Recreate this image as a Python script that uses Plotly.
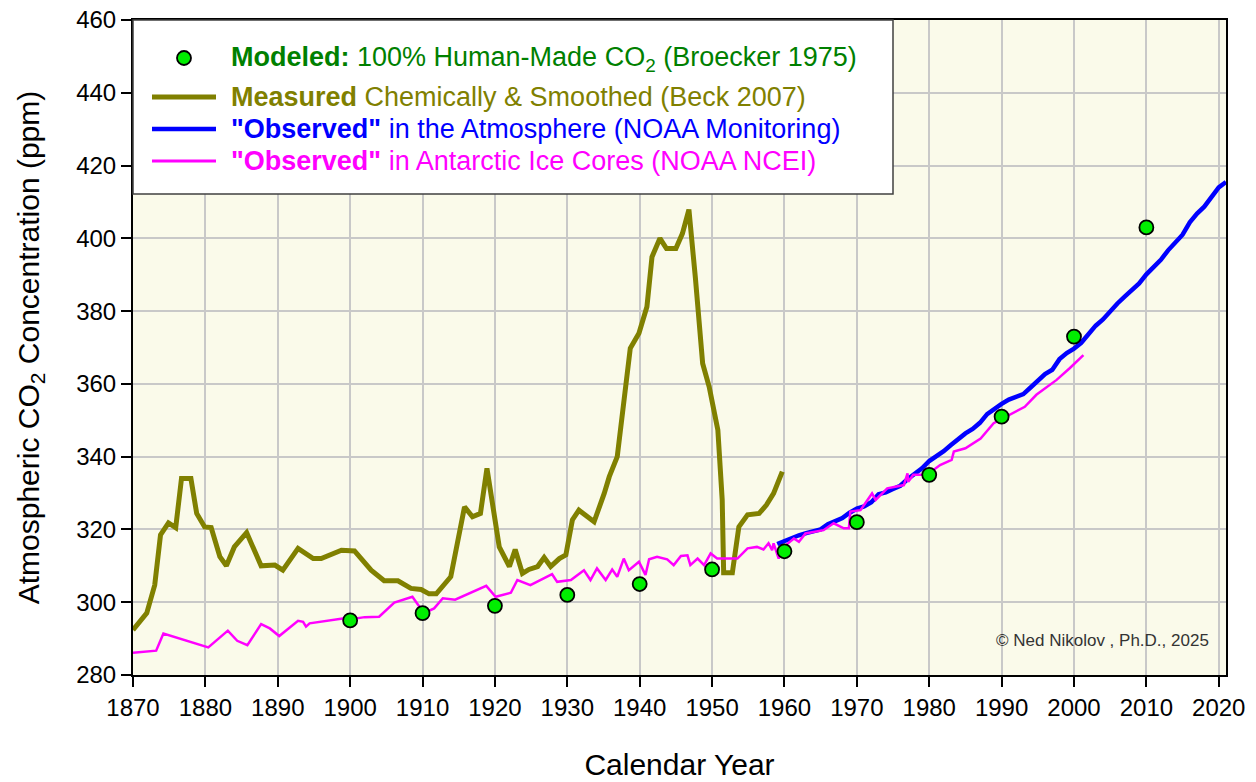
import plotly.graph_objects as go

# ---------------- data ----------------
model_year = [1900, 1910, 1920, 1930, 1940, 1950, 1960, 1970, 1980, 1990, 2000, 2010]
model_ppm = [295, 297, 299, 302, 305, 309, 314, 322, 335, 351, 373, 403]

beck_year = [1870.0, 1871.9, 1873.0, 1873.8, 1874.9, 1875.9, 1876.7, 1878.0, 1878.8, 1879.9,
             1880.8, 1882.0, 1882.9, 1884.0, 1885.7, 1887.7, 1889.6, 1890.7, 1892.8, 1894.9,
             1896.0, 1898.8, 1900.6, 1902.9, 1904.7, 1906.6, 1908.4, 1909.8, 1910.9, 1911.9,
             1913.9, 1915.8, 1916.9, 1918.0, 1918.9, 1920.6, 1922.0, 1922.8, 1923.8, 1924.7,
             1925.9, 1926.8, 1927.7, 1928.9, 1929.8, 1930.7, 1931.6, 1933.7, 1935.1, 1935.8,
             1936.9, 1937.8, 1938.7, 1939.9, 1940.6, 1941.0, 1941.7, 1942.8, 1943.7, 1945.0,
             1945.9, 1946.8, 1947.7, 1948.7, 1949.6, 1950.3, 1950.8, 1951.4, 1951.6, 1952.8,
             1953.7, 1954.9, 1956.5, 1957.5, 1958.5, 1959.7]
beck_ppm = [292.4, 297.0, 304.7, 318.5, 321.8, 320.5, 334.0, 334.0, 324.4, 320.7,
            320.5, 312.5, 310.0, 315.2, 319.1, 310.0, 310.2, 308.8, 314.8, 312.0,
            312.0, 314.3, 314.1, 308.8, 305.9, 305.9, 303.8, 303.5, 302.3, 302.3,
            307.0, 326.2, 323.5, 324.4, 336.8, 315.2, 309.8, 314.5, 307.9, 309.0,
            309.8, 312.3, 309.8, 312.0, 313.0, 322.6, 325.3, 322.1, 329.9, 334.5,
            340.0, 355.5, 369.8, 373.9, 378.4, 381.2, 394.9, 400.0, 397.2, 397.2,
            401.3, 407.9, 389.0, 365.6, 359.2, 352.8, 347.3, 328.1, 308.1, 308.1,
            320.7, 324.0, 324.4, 326.7, 329.9, 335.9]

noaa_year = list(range(1959, 2022))
noaa_ppm = [316.0, 316.9, 317.6, 318.4, 319.0, 319.6, 320.0, 321.4, 322.2, 323.1,
            324.6, 325.7, 326.3, 327.5, 329.7, 330.2, 331.1, 332.0, 333.8, 335.4,
            336.8, 338.8, 340.1, 341.5, 343.2, 344.9, 346.4, 347.6, 349.3, 351.7,
            353.2, 354.5, 355.7, 356.5, 357.2, 359.0, 361.0, 362.7, 363.9, 366.8,
            368.5, 369.7, 371.3, 373.5, 376.0, 377.7, 380.0, 382.1, 384.0, 385.8,
            387.6, 390.1, 391.9, 394.1, 396.7, 398.8, 401.0, 404.4, 406.8, 408.7,
            411.5, 414.0, 415.5]

ice_year = [1870.0, 1873.2, 1874.2, 1877.1, 1880.4, 1883.1, 1884.4, 1885.8, 1887.7, 1888.9,
            1890.2, 1892.8, 1893.5, 1893.9, 1894.4, 1899.2, 1900.1, 1902.0, 1904.0, 1906.1,
            1908.6, 1910.2, 1911.6, 1912.8, 1914.5, 1918.8, 1920.1, 1922.2, 1923.1, 1924.9,
            1927.9, 1928.6, 1930.5, 1932.3, 1933.2, 1934.1, 1935.3, 1936.2, 1936.9, 1937.8,
            1938.5, 1939.9, 1940.8, 1941.3, 1942.4, 1943.8, 1944.7, 1945.7, 1946.6, 1947.0,
            1948.0, 1948.9, 1949.8, 1950.7, 1953.5, 1954.9, 1956.2, 1957.1, 1957.8, 1958.3,
            1958.5, 1959.2, 1959.9, 1961.3, 1962.0, 1962.9, 1965.4, 1966.8, 1968.2, 1968.9,
            1969.1, 1970.5, 1972.1, 1972.6, 1974.2, 1976.5, 1977.0, 1977.1, 1977.8, 1979.7,
            1981.5, 1983.1, 1983.4, 1985.0, 1987.1, 1988.9, 1991.6, 1993.2, 1994.8, 1997.6,
            1999.4, 2001.3]
ice_ppm = [286.1, 286.7, 291.4, 289.6, 287.6, 292.2, 289.4, 288.2, 294.0, 292.8,
           290.7, 294.9, 294.6, 293.3, 294.2, 295.6, 295.3, 295.9, 296.0, 299.9,
           301.5, 297.0, 298.3, 301.1, 300.7, 304.5, 301.5, 302.6, 306.1, 304.7,
           307.7, 305.6, 306.1, 308.8, 306.1, 309.3, 306.1, 309.0, 307.0, 312.0,
           308.8, 311.1, 307.5, 311.8, 312.5, 311.8, 310.2, 312.7, 312.9, 310.2,
           312.0, 310.2, 313.4, 312.0, 312.0, 314.8, 315.2, 314.5, 316.2, 314.3,
           316.2, 312.0, 315.2, 317.5, 316.6, 318.9, 319.8, 321.7, 320.3, 320.3,
           324.9, 325.3, 329.9, 328.1, 331.3, 332.2, 335.4, 333.1, 335.0, 335.0,
           337.7, 339.1, 341.4, 342.3, 345.0, 349.2, 351.9, 353.7, 357.0, 361.1,
           364.3, 367.9]

x_ticks = list(range(1870, 2021, 10))
y_ticks = list(range(280, 461, 20))

legend_labels = [
    "<b>Modeled:</b> 100% Human-Made CO<sub>2</sub> (Broecker 1975)",
    "<b>Measured</b> Chemically &amp; Smoothed (Beck 2007)",
    "<b>\"Observed\"</b> in the Atmosphere (NOAA Monitoring)",
    "<b>\"Observed\"</b> in Antarctic Ice Cores (NOAA NCEI)",
]

# ---------------- styles ----------------
FONT = "Liberation Sans, Arial, sans-serif"
C_MODEL_TXT = "#008000"
C_MODEL = "#00EE00"
C_BECK = "#808000"
C_NOAA = "#0000FF"
C_ICE = "#FF00FF"

SW, SH = 1256, 782
W, H = SW, SH
PL, PR, PT, PB = 133, 1226, 20, 675   # plot area in screen px
ML, MT = PL, PT
MR, MB = SW - PR, SH - PB
PW, PH = PR - PL, PB - PT


def px(xp):
    return (xp - PL) / PW


def py(yp):
    return (PB - yp) / PH


fig = go.Figure()
fig.add_trace(go.Scatter(x=beck_year, y=beck_ppm, mode="lines", name="Beck 2007",
                         line=dict(color=C_BECK, width=5), showlegend=False))
fig.add_trace(go.Scatter(x=noaa_year, y=noaa_ppm, mode="lines", name="NOAA Monitoring",
                         line=dict(color=C_NOAA, width=4.5), showlegend=False))
fig.add_trace(go.Scatter(x=ice_year, y=ice_ppm, mode="lines", name="NOAA NCEI ice cores",
                         line=dict(color=C_ICE, width=2.5), showlegend=False))
fig.add_trace(go.Scatter(x=model_year, y=model_ppm, mode="markers", name="Broecker 1975",
                         marker=dict(color=C_MODEL, size=14, line=dict(color="black", width=1.8)),
                         showlegend=False))

shapes = []
annotations = []
# legend box
shapes.append(dict(type="rect", xref="paper", yref="paper", x0=0, x1=px(893), y0=py(194), y1=1,
                   fillcolor="white", line=dict(color="#404040", width=1.5), layer="above"))
# legend marker
r = 7
shapes.append(dict(type="circle", xref="paper", yref="paper",
                   x0=px(184 - r), x1=px(184 + r), y0=py(58 + r), y1=py(58 - r),
                   fillcolor=C_MODEL, line=dict(color="black", width=1.8), layer="above"))
legend_rows = [(97, C_BECK, 5), (129, C_NOAA, 4.5), (161, C_ICE, 3)]
for yy, col, w in legend_rows:
    shapes.append(dict(type="line", xref="paper", yref="paper", x0=px(152), x1=px(216),
                       y0=py(yy), y1=py(yy), line=dict(color=col, width=w), layer="above"))
text_rows = [(59, C_MODEL_TXT), (97, C_BECK), (129, C_NOAA), (161, C_ICE)]
for (yy, col), lab in zip(text_rows, legend_labels):
    annotations.append(dict(xref="paper", yref="paper", x=px(229), y=py(yy), xanchor="left",
                            yanchor="middle", text=lab, showarrow=False,
                            font=dict(family=FONT, size=27, color=col)))

annotations.append(dict(xref="paper", yref="paper", x=px(1211), y=py(640), xanchor="right",
                        yanchor="middle", text="© Ned Nikolov , Ph.D., 2025", showarrow=False,
                        font=dict(family=FONT, size=17, color="#333333")))

axis_common = dict(showgrid=True, gridcolor="#C8C8C8", gridwidth=1.5, showline=True,
                   linecolor="black", linewidth=2, mirror=True, ticks="outside", ticklen=10,
                   tickwidth=2, tickcolor="black", zeroline=False, ticklabeloverflow="allow",
                   tickfont=dict(family=FONT, size=24, color="black"))

fig.update_layout(
    width=W, height=H,
    margin=dict(l=ML, r=MR, t=MT, b=MB, autoexpand=False),
    paper_bgcolor="white",
    plot_bgcolor="#FAFAEA",
    showlegend=False,
    hovermode=False,
    shapes=shapes,
    annotations=annotations,
    xaxis=dict(range=[1870, 2021], tickvals=x_ticks, ticktext=[str(v) for v in x_ticks],
               title=dict(text="Calendar Year", font=dict(family=FONT, size=30, color="black"),
                          standoff=34),
               **axis_common),
    yaxis=dict(range=[280, 460], tickvals=y_ticks, ticktext=[str(v) for v in y_ticks],
               title=dict(text="Atmospheric CO<sub>2</sub> Concentration (ppm)",
                          font=dict(family=FONT, size=30, color="black"), standoff=28),
               **axis_common),
)

fig.write_html("out.html", config={"displayModeBar": False},
               post_script="document.body.style.margin='0';")
